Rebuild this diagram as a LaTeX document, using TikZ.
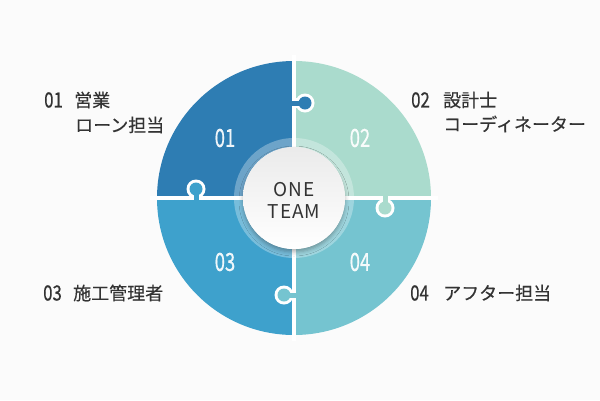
\documentclass[tikz,border=0pt]{standalone}
\usepackage{fontspec}
\setmainfont{Noto Sans CJK JP}
\usetikzlibrary{shadows.blur}
\definecolor{qa}{HTML}{2E7DB3}
\definecolor{qb}{HTML}{AADBCD}
\definecolor{qc}{HTML}{3EA1CC}
\definecolor{qd}{HTML}{75C4D0}
\definecolor{txt}{HTML}{333333}
\definecolor{bgc}{HTML}{FBFBFB}
\tikzset{
  numin/.style={inner sep=0pt, text=white, text opacity=0.92, font=\fontsize{25}{28}\selectfont\addfontfeature{FakeBold=0.6}},
  numout/.style={inner sep=0pt, anchor=west, text=txt, font=\fontsize{21}{24}\selectfont\addfontfeature{FakeBold=0.5}},
  lbl/.style={inner sep=0pt, anchor=west, text=txt, font=\fontsize{18}{22}\selectfont\addfontfeature{FakeBold=0.3}},
  knobw/.style={fill=white},
}
\begin{document}
\begin{tikzpicture}[x=1pt,y=-1pt]
\useasboundingbox (0,0) rectangle (600,400);
\fill[bgc] (0,0) rectangle (600,400);
\coordinate (C) at (294,198);
% quadrants
\begin{scope}\clip (0,0) rectangle (294,198); \fill[qa] (C) circle[radius=137]; \end{scope}
\begin{scope}\clip (294,0) rectangle (600,198); \fill[qb] (C) circle[radius=137]; \end{scope}
\begin{scope}\clip (0,198) rectangle (294,400); \fill[qc] (C) circle[radius=137]; \end{scope}
\begin{scope}\clip (294,198) rectangle (600,400); \fill[qd] (C) circle[radius=137]; \end{scope}
% white outlines of knobs
\fill[knobw] (305,103) circle[radius=9.5]; \fill[knobw] (294,98) rectangle (305,108);
\fill[knobw] (196,189) circle[radius=9.5]; \fill[knobw] (191,198) rectangle (201,189);
\fill[knobw] (385,208) circle[radius=9.5]; \fill[knobw] (380,198) rectangle (390,208);
\fill[knobw] (284,295) circle[radius=9.5]; \fill[knobw] (284,290) rectangle (294,300);
% gaps
\draw[white, line width=4.5pt] (294,55) -- (294,341);
\draw[white, line width=4.5pt] (150,198) -- (438,198);
% knobs
\fill[qa] (305,103) circle[radius=6.5]; \fill[qa] (290,100.5) rectangle (305,105.5);
\fill[qc] (196,189) circle[radius=6.5]; \fill[qc] (193.5,202) rectangle (198.5,189);
\fill[qb] (385,208) circle[radius=6.5]; \fill[qb] (382.5,194) rectangle (387.5,208);
\fill[qd] (284,295) circle[radius=6.5]; \fill[qd] (298,292.5) rectangle (284,297.5);
% centre
\fill[white, opacity=0.3] (C) circle[radius=60];
\fill[white, blur shadow={shadow xshift=0pt, shadow yshift=-3pt, shadow opacity=30, shadow blur radius=4pt}] (C) circle[radius=51];
\shade[top color=white!92!black, bottom color=white] (C) circle[radius=51];
\node[inner sep=0pt, text=txt, font=\fontsize{19}{22}\selectfont\addfontfeature{LetterSpace=5}] (one) at (294,190) {ONE};
\node[inner sep=0pt, text=txt, font=\fontsize{19}{22}\selectfont\addfontfeature{LetterSpace=5}] (team) at (294,212) {TEAM};
% inner numbers
\node[numin] (i1) at (225,138) {\scalebox{0.74}[1]{01}};
\node[numin] (i2) at (360,138) {\scalebox{0.74}[1]{02}};
\node[numin] (i3) at (225,262) {\scalebox{0.74}[1]{03}};
\node[numin] (i4) at (360,262) {\scalebox{0.74}[1]{04}};
% outer labels
\node[numout] (o1) at (44,100) {\scalebox{0.8}[1]{01}};
\node[lbl] (l1a) at (74,100) {営業};
\node[lbl] (l1b) at (75,125) {ローン担当};
\node[numout] (o2) at (411,100) {\scalebox{0.8}[1]{02}};
\node[lbl] (l2a) at (443,100) {設計士};
\node[lbl] (l2b) at (443,124) {コーディネーター};
\node[numout] (o3) at (43,293) {\scalebox{0.8}[1]{03}};
\node[lbl] (l3) at (73,293) {施工管理者};
\node[numout] (o4) at (410,293) {\scalebox{0.8}[1]{04}};
\node[lbl] (l4) at (443,293) {アフター担当};
\end{tikzpicture}
\end{document}
